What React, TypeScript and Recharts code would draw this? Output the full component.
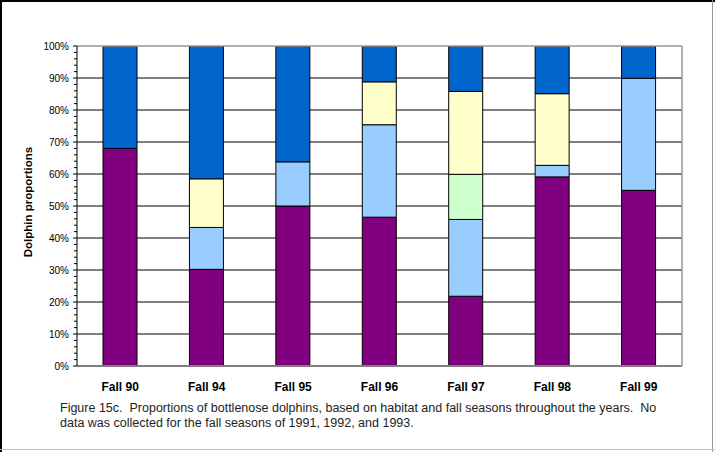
import React from "react"
import { BarChart, Bar, XAxis, YAxis, CartesianGrid } from "recharts"

const FONT = "'Liberation Sans', Arial, sans-serif"

const seasons = ["Fall 90", "Fall 94", "Fall 95", "Fall 96", "Fall 97", "Fall 98", "Fall 99"]

// habitat shares (%) per season, listed bottom of the stack to top
const habitat1 = [68, 30.2, 50, 46.5, 21.8, 59.1, 54.9]
const habitat2 = [0, 13.1, 13.8, 28.9, 24, 3.6, 35]
const habitat3 = [0, 0, 0, 0, 14.1, 0, 0]
const habitat4 = [0, 15.2, 0, 13.4, 25.9, 22.4, 0]
const habitat5 = [32, 41.5, 36.2, 11.2, 14.2, 14.9, 10.1]

const seriesKeys = ["h1", "h2", "h3", "h4", "h5"]
const seriesColors = ["#800080", "#99CCFF", "#CCFFCC", "#FFFFCC", "#0066CC"]

const gridValues = [10, 20, 30, 40, 50, 60, 70, 80, 90]
// every 2% gets a tick mark, every 10% gets a label too
const pctTicks = Array.from({ length: 51 }, (_, i) => i * 2)
const boundaryTicks = [0, 1, 2, 3, 4, 5, 6, 7]

const rows = seasons.map((season, i) => ({
  season,
  h1: habitat1[i],
  h2: habitat2[i],
  h3: habitat3[i],
  h4: habitat4[i],
  h5: habitat5[i],
}))

const PctTick = (props: any) => {
  const { x, y, payload } = props
  const v = payload.value
  const major = v % 10 === 0
  return (
    <g>
      <line x1={x - (major ? 4 : 3)} x2={x} y1={y} y2={y} stroke="#000" strokeWidth={1} />
      {major && (
        <text x={x - 8} y={y} dy="0.35em" textAnchor="end" fontSize={10} fontFamily={FONT} fill="#000">
          {`${v}%`}
        </text>
      )}
    </g>
  )
}

export default function App() {
  return (
    <div style={{ position: "absolute", left: 0, top: 0, width: 715, height: 452, background: "#fff" }}>
      <BarChart
        width={715}
        height={452}
        data={rows}
        margin={{ top: 45, right: 32, bottom: 84, left: 0 }}
        barSize={34}
      >
        <CartesianGrid
          xAxisId="cat"
          yAxisId="pct"
          vertical={false}
          horizontalValues={gridValues}
          stroke="#000"
          strokeWidth={1}
        />
        <XAxis
          xAxisId="bounds"
          type="number"
          domain={[0, 7]}
          ticks={boundaryTicks}
          interval={0}
          allowDataOverflow
          height={1}
          tick={false}
          tickSize={4}
          tickLine={{ stroke: "#808080" }}
          axisLine={{ stroke: "#808080", strokeWidth: 2 }}
        />
        <XAxis
          xAxisId="cat"
          dataKey="season"
          height={1}
          interval={0}
          axisLine={false}
          tickLine={false}
          tickSize={0}
          tickMargin={15}
          tick={{ fontSize: 12, fontWeight: "bold", fill: "#000", fontFamily: FONT }}
        />
        <XAxis
          xAxisId="top"
          orientation="top"
          type="number"
          domain={[0, 1]}
          allowDataOverflow
          height={1}
          tick={false}
          tickLine={false}
          axisLine={{ stroke: "#999", strokeWidth: 1.5 }}
        />
        <YAxis
          yAxisId="pct"
          domain={[0, 100]}
          ticks={pctTicks}
          interval={0}
          allowDataOverflow
          width={77}
          tickSize={0}
          tickMargin={0}
          tickLine={false}
          axisLine={{ stroke: "#000" }}
          tick={<PctTick />}
        />
        <YAxis
          yAxisId="right"
          orientation="right"
          domain={[0, 100]}
          width={1}
          tick={false}
          tickLine={false}
          axisLine={{ stroke: "#999", strokeWidth: 1.5 }}
        />
        {seriesKeys.map((key, i) => (
          <Bar
            key={key}
            dataKey={key}
            stackId="a"
            xAxisId="cat"
            yAxisId="pct"
            fill={seriesColors[i]}
            stroke="#000"
            strokeWidth={1}
            isAnimationActive={false}
          />
        ))}
      </BarChart>
      <svg
        width={715}
        height={452}
        style={{ position: "absolute", left: 0, top: 0, pointerEvents: "none" }}
      >
        {/* page frame */}
        <line x1={0} x2={715} y1={1} y2={1} stroke="#000" strokeWidth={2} />
        <line x1={1} x2={1} y1={0} y2={452} stroke="#000" strokeWidth={2} />
        <line x1={712.5} x2={712.5} y1={0} y2={452} stroke="#999" strokeWidth={1} />
        <line x1={0} x2={715} y1={449.5} y2={449.5} stroke="#bbb" strokeWidth={1} />
        <text
          x={28}
          y={202}
          transform="rotate(-90 28 202)"
          textAnchor="middle"
          dominantBaseline="central"
          fontSize={11.5}
          fontWeight="bold"
          fontFamily={FONT}
          fill="#000"
        >
          Dolphin proportions
        </text>
        <text x={60} y={411.5} fontSize={12.5} fontFamily={FONT} fill="#222" style={{ whiteSpace: "pre" }}>
          {"Figure 15c.  Proportions of bottlenose dolphins, based on habitat and fall seasons throughout the years.  No"}
        </text>
        <text x={60} y={427} fontSize={12.5} fontFamily={FONT} fill="#222" style={{ whiteSpace: "pre" }}>
          {"data was collected for the fall seasons of 1991, 1992, and 1993."}
        </text>
      </svg>
    </div>
  )
}
